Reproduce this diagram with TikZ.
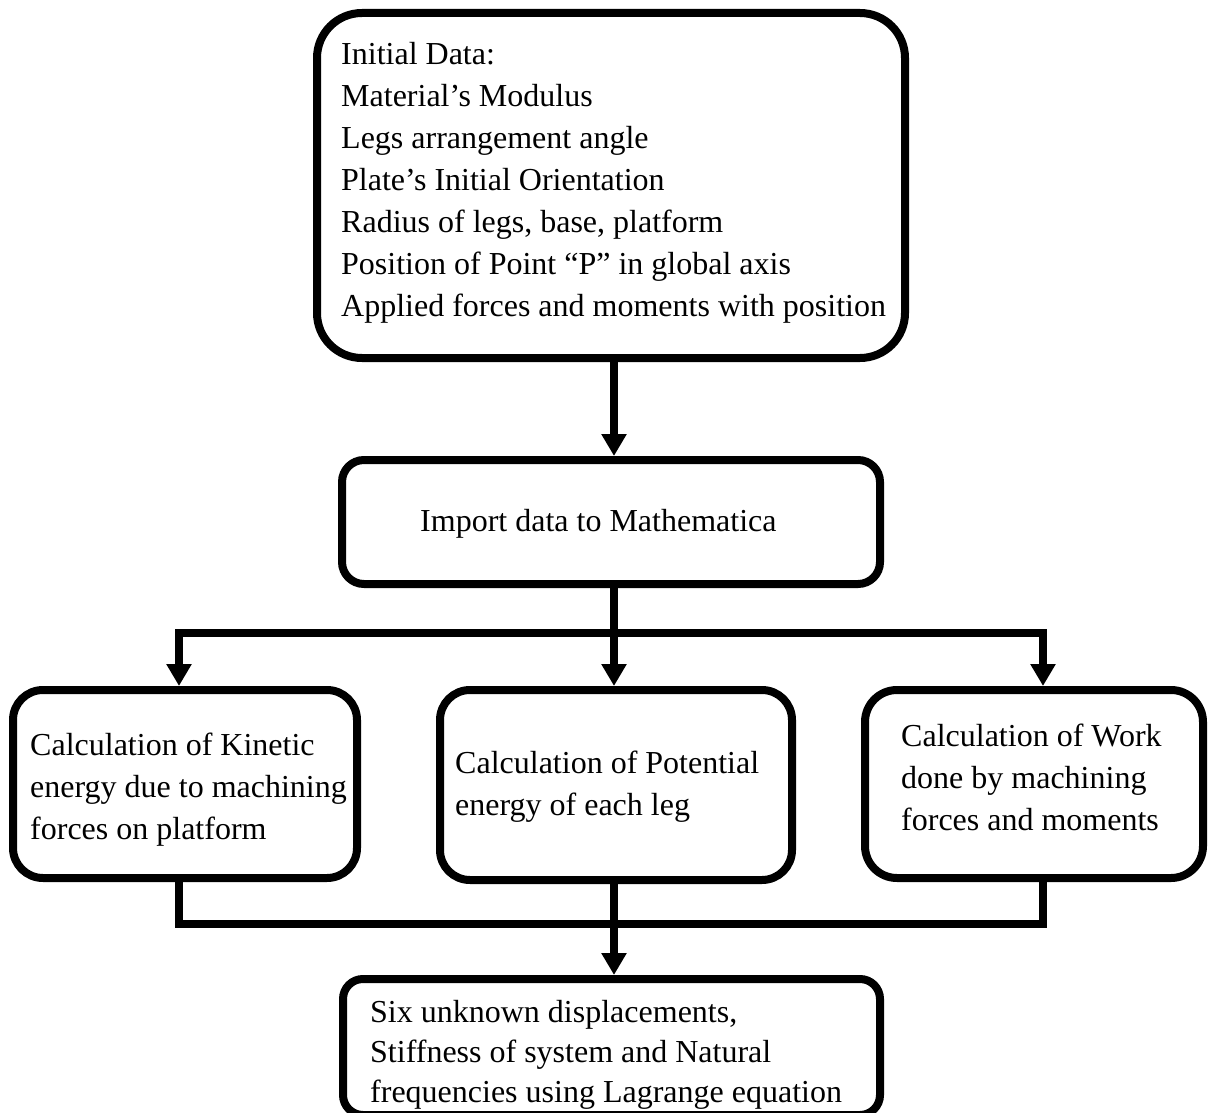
\documentclass[tikz,border=0pt]{standalone}
\usepackage{fontspec}
\setmainfont{Liberation Serif}
\usetikzlibrary{arrows.meta}
\begin{document}
\begin{tikzpicture}[x=1pt,y=-1pt,
  box/.style={draw,line width=8pt,inner sep=0pt,fill=white},
  txt/.style={font=\fontsize{32}{42}\selectfont,align=left,inner sep=0pt,anchor=west},
  conn/.style={line width=8pt},
  arr/.style={line width=8pt,-{Triangle[width=24pt,length=22pt]}}]
\useasboundingbox (0,0) rectangle (1208,1113);
% boxes
\node[box,rounded corners=45pt,minimum width=588pt,minimum height=345pt] (top) at (611,185.5) {};
\node[box,rounded corners=22pt,minimum width=538pt,minimum height=124pt] (mid) at (611,522) {};
\node[box,rounded corners=30pt,minimum width=344pt,minimum height=188pt] (left) at (185,784) {};
\node[box,rounded corners=30pt,minimum width=352pt,minimum height=190pt] (midlow) at (616,785) {};
\node[box,rounded corners=32pt,minimum width=338pt,minimum height=188pt] (right) at (1034,784) {};
\node[box,rounded corners=20pt,minimum width=537pt,minimum height=136pt] (bottom) at (611.5,1047) {};
% texts
\node[txt] (ttop) at (341,182.6) {Initial Data:\\Material’s Modulus\\Legs arrangement angle\\Plate’s Initial Orientation\\Radius of legs, base, platform\\Position of Point “P” in global axis\\Applied forces and moments with position};
\node[txt] (tmid) at (420,523.5) {Import data to Mathematica};
\node[txt] (tleft) at (30,789.5) {Calculation of Kinetic\\energy due to machining\\forces on platform};
\node[txt] (tmidlow) at (455,786.5) {Calculation of Potential\\energy of each leg};
\node[txt] (tright) at (901,777) {Calculation of Work\\done by machining\\forces and moments};
\node[txt,font=\fontsize{32}{40}\selectfont] (tbottom) at (370,1055) {Six unknown displacements,\\Stiffness of system and Natural\\frequencies using Lagrange equation};
% junction coordinates
\coordinate (jL) at (179,633);
\coordinate (jM) at (614,633);
\coordinate (jR) at (1043,633);
\coordinate (kL) at (179,924);
\coordinate (kM) at (614,924);
\coordinate (kR) at (1043,924);
% connectors
\draw[arr] (jM |- top.south) -- (jM |- mid.north);
\draw[conn] (jM |- mid.south) -- (jM);
\draw[conn,line cap=rect] (jL) -- (jR);
\draw[arr] (jL) -- (jL |- left.north);
\draw[arr] (jM) -- (jM |- midlow.north);
\draw[arr] (jR) -- (jR |- right.north);
\draw[conn,line join=miter] (kL |- left.south) -- (kL) -- (kR) -- (kR |- right.south);
\draw[arr] (kM |- midlow.south) -- (kM |- bottom.north);
\end{tikzpicture}
\end{document}
